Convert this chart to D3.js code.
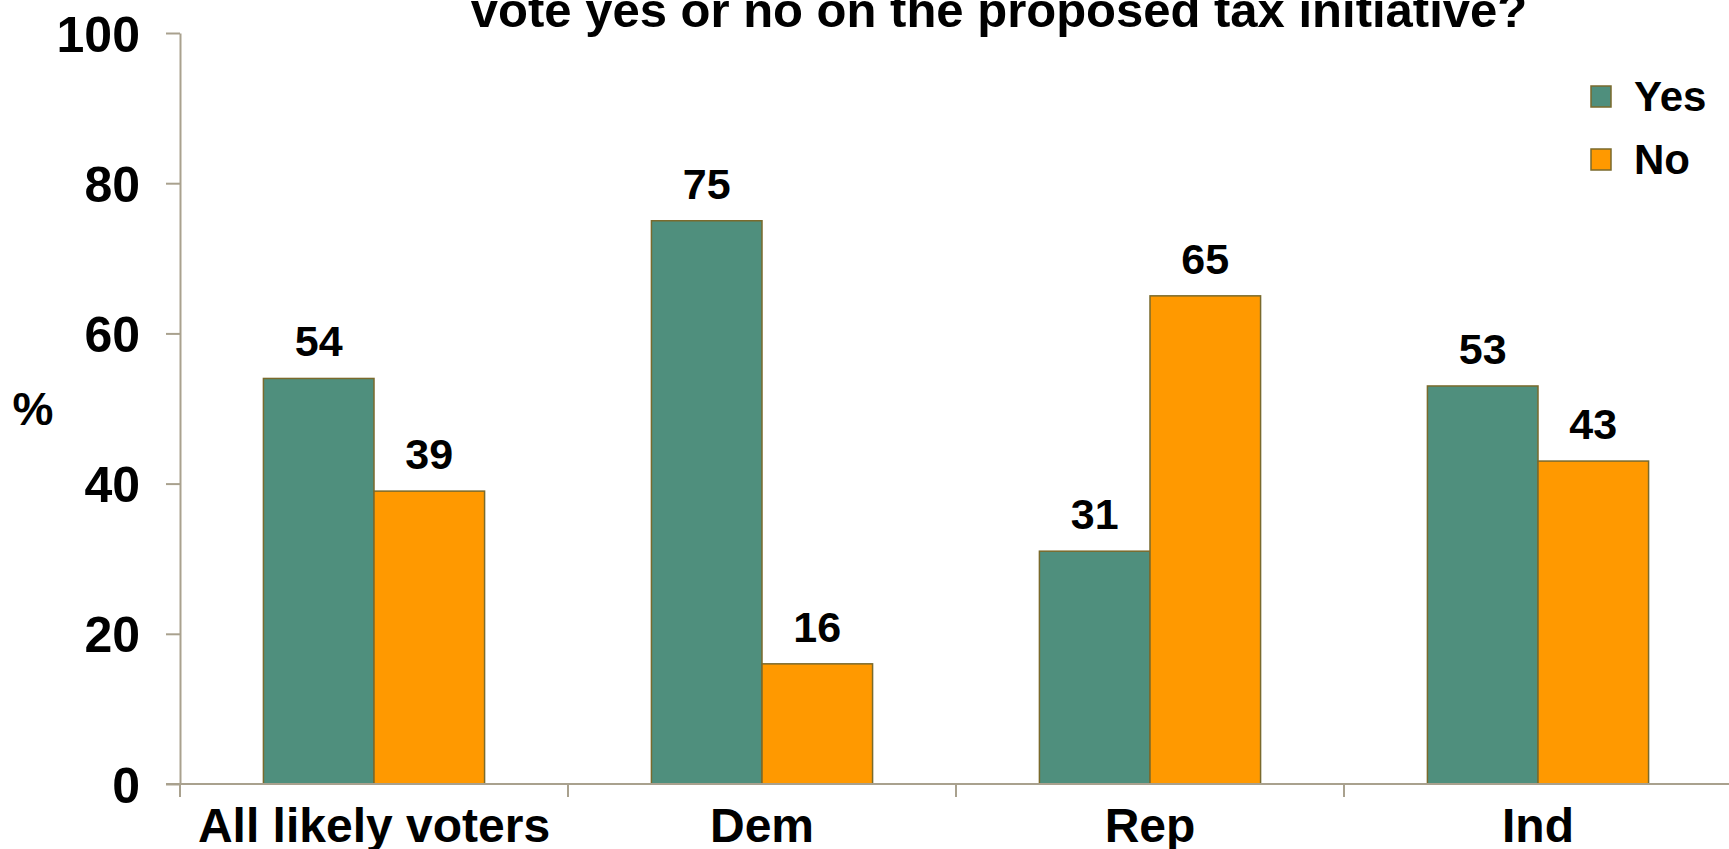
<!DOCTYPE html>
<html>
<head>
<meta charset="utf-8">
<script src="https://cdn.jsdelivr.net/npm/d3@7"></script>
<style>
  html, body { margin: 0; padding: 0; background: #fff; }
  svg { display: block; font-family: "Liberation Sans", Arial, sans-serif; font-weight: bold; }
</style>
</head>
<body>
<script>
const categories = ["All likely voters", "Dem", "Rep", "Ind"];
const seriesNames = ["Yes", "No"];
const yesValues = [54, 75, 31, 53];
const noValues = [39, 16, 65, 43];
const yTicks = [0, 20, 40, 60, 80, 100];
const titleText = "vote yes or no on the proposed tax initiative?";
const yLabel = "%";
const colors = { Yes: "#4F8F7D", No: "#FF9900" };

const W = 1729, H = 849;
const axisColor = "#A9A18E";
const edgeColor = "#7A6A2C";

const svg = d3.select("body").append("svg").attr("width", W).attr("height", H);

const y = d3.scaleLinear().domain([0, 100]).range([784, 33]);
const x = d3.scaleBand().domain(categories).range([180, 1732]).padding(0);
const groupW = x.bandwidth() * 0.57;
const x1 = d3.scaleBand().domain(seriesNames)
  .range([(x.bandwidth() - groupW) / 2, (x.bandwidth() + groupW) / 2]).padding(0);

const data = categories.map((c, i) => ({ cat: c, Yes: yesValues[i], No: noValues[i] }));

// Title (second line visible)
svg.append("text").attr("x", 999).attr("y", 27).attr("text-anchor", "middle")
  .attr("font-size", 49).attr("fill", "#000").text(titleText);

// Y axis
const yAxis = svg.append("g").attr("transform", "translate(180,0)")
  .call(d3.axisLeft(y).tickValues(yTicks).tickSize(14).tickSizeOuter(0).tickPadding(26));
yAxis.select(".domain").attr("stroke", axisColor).attr("stroke-width", 2);
yAxis.selectAll(".tick line").attr("stroke", axisColor).attr("stroke-width", 2);
yAxis.selectAll(".tick text").attr("font-size", 50).attr("font-family", "Liberation Sans, Arial, sans-serif")
  .attr("font-weight", "bold").attr("fill", "#000").attr("dy", "0.36em");

// Y label
svg.append("text").attr("x", 33).attr("y", 425).attr("text-anchor", "middle")
  .attr("font-size", 46).attr("fill", "#000").text(yLabel);

// Bars
const groups = svg.append("g").selectAll("g").data(data).join("g")
  .attr("transform", d => `translate(${x(d.cat)},0)`);
groups.selectAll("rect").data(d => seriesNames.map(k => ({ key: k, value: d[k] }))).join("rect")
  .attr("x", d => x1(d.key))
  .attr("y", d => y(d.value))
  .attr("width", x1.bandwidth())
  .attr("height", d => y(0) - y(d.value))
  .attr("fill", d => colors[d.key])
  .attr("stroke", edgeColor).attr("stroke-width", 1.5);
groups.selectAll("text").data(d => seriesNames.map(k => ({ key: k, value: d[k] }))).join("text")
  .attr("x", d => x1(d.key) + x1.bandwidth() / 2)
  .attr("y", d => y(d.value) - 22)
  .attr("text-anchor", "middle").attr("font-size", 43).attr("fill", "#000")
  .text(d => d.value);

// X axis
const xg = svg.append("g");
xg.append("line").attr("x1", 166).attr("x2", W).attr("y1", y(0)).attr("y2", y(0))
  .attr("stroke", axisColor).attr("stroke-width", 2);
const bounds = categories.map(c => x(c)).concat([x.range()[1]]);
xg.selectAll("line.tk").data(bounds).join("line").attr("class", "tk")
  .attr("x1", d => d).attr("x2", d => d).attr("y1", y(0)).attr("y2", y(0) + 13)
  .attr("stroke", axisColor).attr("stroke-width", 2);
xg.selectAll("text").data(categories).join("text")
  .attr("x", d => x(d) + x.bandwidth() / 2).attr("y", 842)
  .attr("text-anchor", "middle").attr("font-size", 48).attr("fill", "#000")
  .text(d => d);

// Legend
const legend = svg.append("g");
seriesNames.forEach((k, i) => {
  legend.append("rect").attr("x", 1591).attr("y", 86 + i * 63).attr("width", 20).attr("height", 21)
    .attr("fill", colors[k]).attr("stroke", edgeColor).attr("stroke-width", 1.5);
  legend.append("text").attr("x", 1634).attr("y", 111 + i * 63).attr("font-size", 42)
    .attr("fill", "#000").text(k);
});
</script>
</body>
</html>
